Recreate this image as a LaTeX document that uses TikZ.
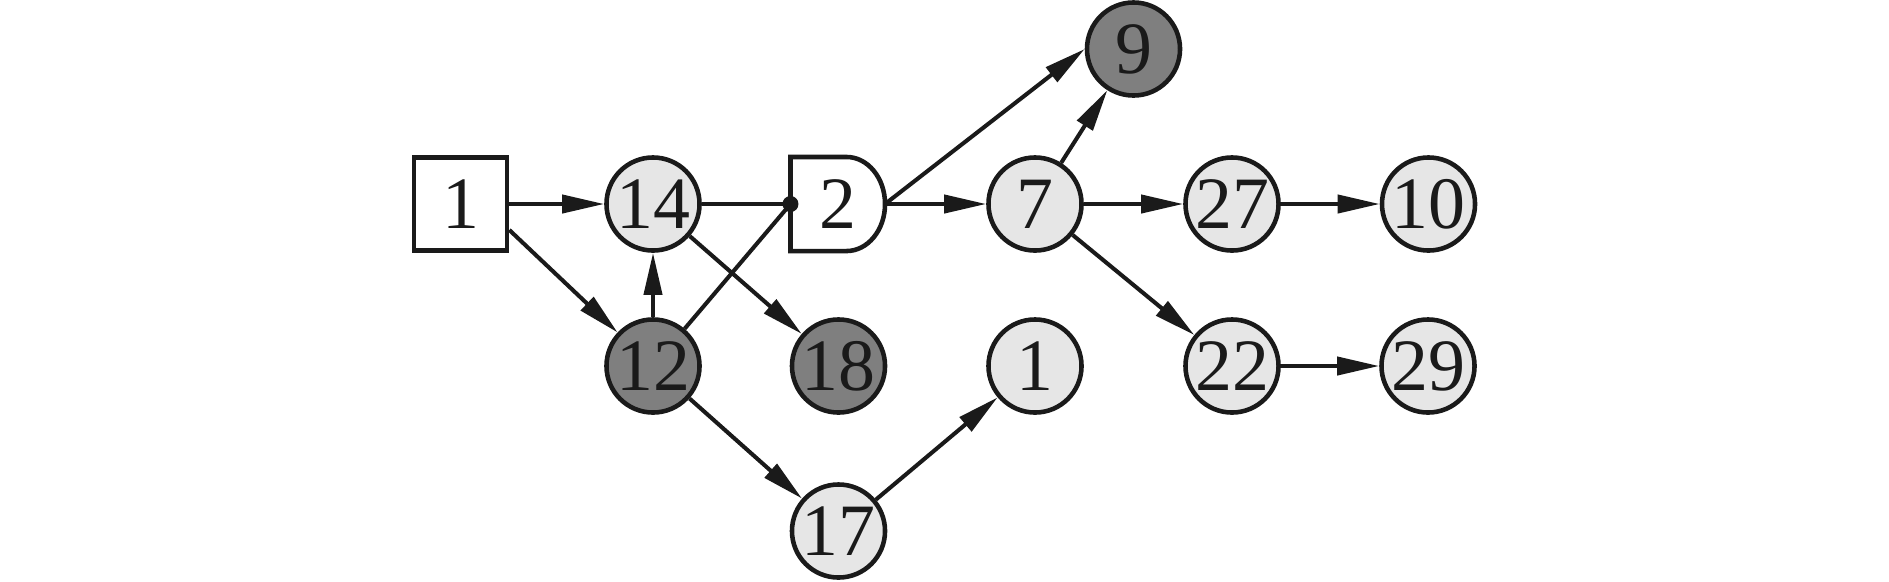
\documentclass[tikz,border=0pt]{standalone}
\usepackage{fontspec}
\setmainfont{Liberation Serif}
\usetikzlibrary{arrows.meta}
\definecolor{ink}{HTML}{1A1A1A}
\definecolor{lightfill}{HTML}{E6E6E6}
\definecolor{darkfill}{HTML}{7F7F7F}
\begin{document}
\begin{tikzpicture}[x=0.01cm,y=-0.01cm,
  base/.style={draw=ink, line width=1.3pt, inner sep=0pt, text=ink, font=\fontsize{21}{25}\selectfont},
  light/.style={base, circle, fill=lightfill, minimum size=0.93cm},
  dark/.style={base, circle, fill=darkfill, minimum size=0.93cm},
  sqbox/.style={base, rectangle, fill=white, minimum size=0.93cm},
  arr/.style={draw=ink, line width=1.15pt, -{Triangle[length=0.42cm,width=0.18cm]}},
  ln/.style={draw=ink, line width=1.15pt}]
\useasboundingbox (0,0) rectangle (1889,581);
\node[sqbox] (s1) at (460.5,204) {1};
\node[light] (n14) at (653,204) {14};
\node[dark] (n12) at (653,366) {12};
\node[dark] (n18) at (838.5,366) {18};
\node[light] (n17) at (838.5,531) {17};
\node[light] (n7) at (1035,204) {7};
\node[light] (n1) at (1035,366) {1};
\node[dark] (n9) at (1133.5,49) {9};
\node[light] (n27) at (1232,204) {27};
\node[light] (n22) at (1232,366) {22};
\node[light] (n10) at (1428.5,204) {10};
\node[light] (n29) at (1428,366) {29};
\node[base, draw=none, rectangle, minimum width=0.945cm, minimum height=0.94cm, outer sep=0pt] (n2) at (837.75,204) {2};
\draw[ink, line width=1.3pt] (n2.north west) -- ([xshift=0.56cm]n2.north west)
  arc[start angle=90, end angle=-90, x radius=0.385cm, y radius=0.47cm] -- (n2.south west) -- cycle;
\coordinate (dot) at (n2.west);
\draw[arr] (s1) -- (n14);
\draw[arr] (s1.-28) -- (n12);
\draw[arr] (n12) -- (n14);
\draw[ln] (n14) -- (dot);
\draw[ln] (n12) -- (dot);
\draw[arr] (n14) -- (n18);
\draw[arr] (n2.east) -- (n9.west);
\draw[arr] (n2) -- (n7);
\draw[arr] (n7) -- (n9);
\draw[arr] (n7) -- (n27);
\draw[arr] (n7) -- (n22);
\draw[arr] (n27) -- (n10);
\draw[arr] (n22) -- (n29);
\draw[arr] (n12) -- (n17);
\draw[arr] (n17) -- (n1);
\fill[ink] (dot) circle[radius=0.08cm];
\end{tikzpicture}
\end{document}
